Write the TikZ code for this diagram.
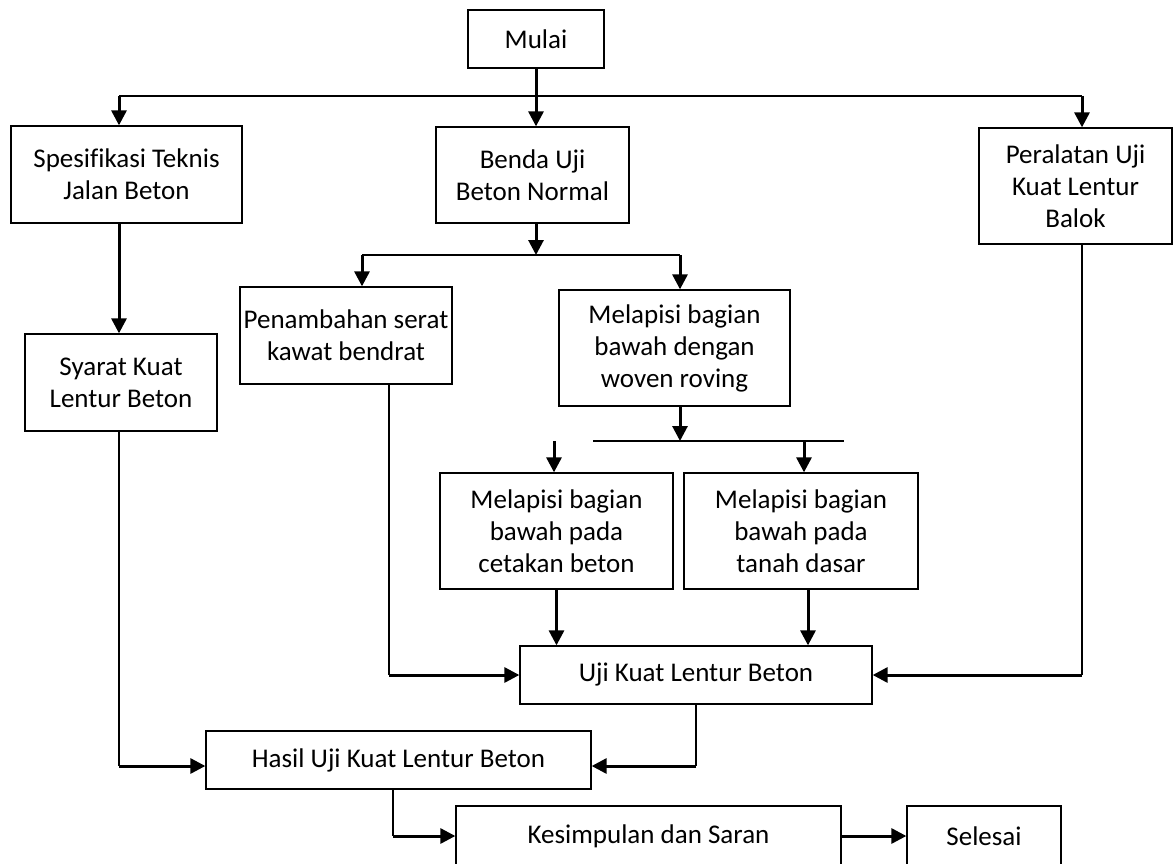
\documentclass[tikz,border=0pt]{standalone}
\usepackage{fontspec}
\setmainfont{Carlito}[Ligatures=NoCommon]
\usetikzlibrary{arrows.meta}

\begin{document}
\begin{tikzpicture}[x=1pt,y=-1pt,
	box/.style={draw, line width=1.3pt, align=center, inner sep=0pt,
		font=\fontsize{27}{32}\selectfont},
	garis/.style={line width=1.4pt},
	panah/.style={line width=3pt, -{Triangle[length=15pt,width=15pt]}}]
			% We will draw the flowchart here
			\useasboundingbox (0,0) rectangle (1175,864);
			
			\node[box, minimum width=136pt, minimum height=58pt] (mulai) at (536,39) {Mulai};
			\node[box, minimum width=231pt, minimum height=97pt] (spek) at (126.5,174.5) {Spesifikasi Teknis\\Jalan Beton};
			\node[box, minimum width=193pt, minimum height=96pt] (benda) at (532.5,175) {Benda Uji\\Beton Normal};
			\node[box, minimum width=193pt, minimum height=116pt] (alat) at (1075.5,186) {Peralatan Uji\\Kuat Lentur\\Balok};
			\node[box, minimum width=192pt, minimum height=97pt] (syarat) at (121,382.5) {Syarat Kuat\\Lentur Beton};
			\node[box, minimum width=212pt, minimum height=97pt] (serat) at (346,335.5) {Penambahan serat\\kawat bendrat};
			\node[box, minimum width=231pt, minimum height=116pt] (woven) at (674.5,348) {Melapisi bagian\\bawah dengan\\woven roving};
			\node[box, minimum width=233pt, minimum height=116pt] (cetak) at (556.5,531) {Melapisi bagian\\bawah pada\\cetakan beton};
			\node[box, minimum width=234pt, minimum height=116pt] (tanah) at (801,531) {Melapisi bagian\\bawah pada\\tanah dasar};
			\node[box, minimum width=352pt, minimum height=58pt] (uji) at (696,675) {Uji Kuat Lentur Beton};
			\node[box, minimum width=385pt, minimum height=58pt] (hasil) at (398.5,760) {Hasil Uji Kuat Lentur Beton};
			\node[box, minimum width=385pt, minimum height=60pt] (simpul) at (648.5,836) {Kesimpulan dan Saran};
			\node[box, minimum width=154pt, minimum height=60pt] (selesai) at (984,836) {Selesai};
			
			% cabang
			\coordinate (busL) at (119,96);
			\coordinate (busR) at (1082,96);
			\coordinate (cabA) at (362,255);
			\coordinate (cabB) at (680,255);
			\coordinate (cabC) at (554,441);
			\coordinate (cabD) at (804,441);
			\coordinate (cabE) at (593,441);
			\coordinate (cabF) at (844,441);
			\coordinate (belokA) at (389,675);
			\coordinate (belokB) at (1082,675);
			\coordinate (belokC) at (119,766);
			\coordinate (belokD) at (696,766);
			\coordinate (belokE) at (393,836);
			
			\draw[garis] (busL) -- (busR);
			\draw[panah] (mulai.south) -- (mulai.south |- benda.north);
			\draw[panah] (busL) -- (busL |- spek.north);
			\draw[panah] (busR) -- (busR |- alat.north);
			\draw[panah] (spek.south -| busL) -- (busL |- syarat.north);
			
			\draw[panah] (benda.south -| mulai.south) -- (mulai.south |- cabA);
			\draw[garis] (cabA) -- (cabB);
			\draw[panah] (cabA) -- (cabA |- serat.north);
			\draw[panah] (cabB) -- (cabB |- woven.north);
			
			\draw[panah] (woven.south -| cabB) -- (cabB |- cabE);
			\draw[garis] (cabE) -- (cabF);
			\draw[panah] (cabC) -- (cabC |- cetak.north);
			\draw[panah] (cabD) -- (cabD |- tanah.north);
			
			\draw[panah] (cetak.south) -- (cetak.south |- uji.north);
			\draw[panah] ([xshift=7pt]tanah.south) -- ([xshift=7pt]tanah.south |- uji.north);
			
			\draw[garis] (serat.south -| belokA) -- (belokA);
			\draw[panah] (belokA) -- (uji.west);
			\draw[garis] (alat.south -| belokB) -- (belokB);
			\draw[panah] (belokB) -- (uji.east);
			
			\draw[garis] (syarat.south -| belokC) -- (belokC);
			\draw[panah] (belokC) -- (belokC -| hasil.west);
			\draw[garis] (uji.south -| belokD) -- (belokD);
			\draw[panah] (belokD) -- (belokD -| hasil.east);
			
			\draw[garis] (hasil.south -| belokE) -- (belokE);
			\draw[panah] (belokE) -- (simpul.west);
			\draw[panah] (simpul.east) -- (selesai.west);
			
		\end{tikzpicture}
\end{document}
